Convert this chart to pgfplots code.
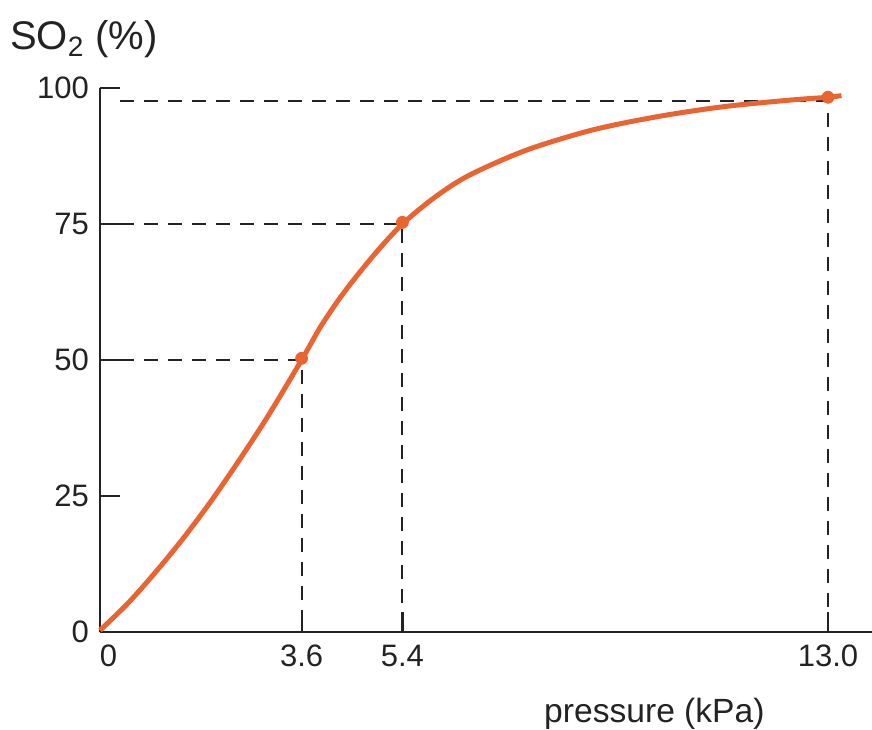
\documentclass[border=0pt]{standalone}
\usepackage{pgfplots}
\pgfplotsset{compat=1.18}
\usepackage{fontspec}
\setmainfont{Liberation Sans}
\definecolor{curve}{RGB}{234,100,50}
\definecolor{ink}{RGB}{35,35,35}
\begin{document}
\begin{tikzpicture}
\useasboundingbox (-50pt,-48.5pt) rectangle (386pt,316pt);
\begin{axis}[
  at={(0,0)}, anchor=origin,
  x=28pt, y=2.72pt,
  xmin=0, xmax=13.78, ymin=0, ymax=100,
  axis lines=left,
  axis line style={-, ink, line width=1.2pt},
  tick align=inside,
  major tick length=10pt,
  tick style={ink, line width=1.1pt},
  xtick={0,3.6,5.4,13},
  xticklabels={\hphantom{0}0,3.6,5.4,13.0},
  ytick={0,25,50,75,100},
  yticklabels={0,25,50,75,100},
  ticklabel style={font=\fontsize{15.5}{18}\selectfont, text=ink},
  xticklabel style={yshift=-3pt},
  yticklabel style={xshift=-2pt},
  /pgf/number format/assume math mode=true,
  clip=false,
]
% dashed guides
\addplot[ink, line width=1pt, dash pattern=on 7pt off 5pt] coordinates {(0.35,50) (3.6,50) (3.6,0)};
\addplot[ink, line width=1pt, dash pattern=on 7pt off 5pt] coordinates {(0.35,75) (5.4,75) (5.4,0)};
\addplot[ink, line width=1pt, dash pattern=on 7pt off 5pt] coordinates {(0.35,97.6) (13,97.6) (13,0)};
% curve
\addplot[curve, line width=2.5pt, smooth] coordinates {
(0,0.3) (0.5,5.3) (1,11.1) (1.5,17.4) (2,24.3) (2.5,31.8) (3,39.7) (3.6,50)
(3.95,56.3) (4.37,62.6) (4.9,69.4) (5.4,75) (5.99,80) (6.6,84) (7.62,88.6) (8.8,92.3) (9.99,94.8)
(11.16,96.6) (12.35,97.8) (13,98.3) (13.24,98.6)};
\addplot[only marks, mark=*, mark size=3pt, curve] coordinates {(3.6,50.3) (5.4,75.3) (13,98.3)};
\node[anchor=base west, font=\fontsize{20}{24}\selectfont, text=ink] at (axis cs:-1.73,107) {SO\textsubscript{2} (\%)};
\node[anchor=base, font=\fontsize{16.8}{20}\selectfont, text=ink] at (axis cs:9.9,-16.6) {pressure (kPa)};
\end{axis}
\end{tikzpicture}
\end{document}
